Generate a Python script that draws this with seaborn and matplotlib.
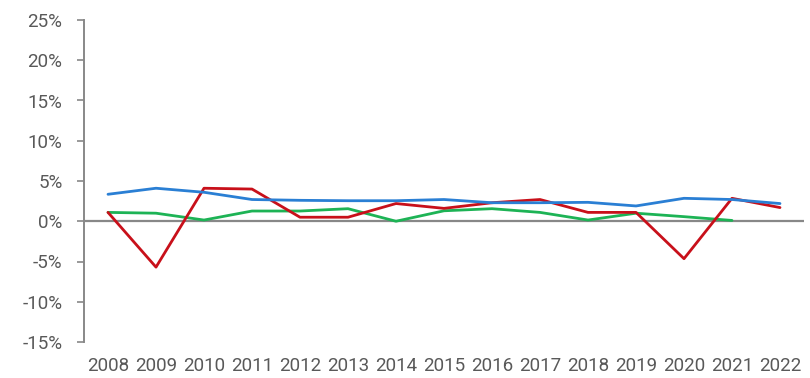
import matplotlib
matplotlib.use("Agg")
import matplotlib.pyplot as plt
import seaborn as sns
import pandas as pd
from matplotlib.ticker import FuncFormatter

years = [2008, 2009, 2010, 2011, 2012, 2013, 2014, 2015, 2016, 2017, 2018, 2019, 2020, 2021, 2022]
blue_vals = [3.35, 4.1, 3.6, 2.7, 2.6, 2.55, 2.55, 2.7, 2.3, 2.3, 2.35, 1.9, 2.85, 2.7, 2.2]
red_vals = [1.1, -5.7, 4.1, 4.0, 0.5, 0.5, 2.2, 1.6, 2.3, 2.7, 1.1, 1.1, -4.65, 2.85, 1.7]
green_vals = [1.1, 1.0, 0.15, 1.27, 1.27, 1.56, 0.0, 1.3, 1.56, 1.1, 0.15, 1.0, 0.57, 0.1, None]
yticks = [-15, -10, -5, 0, 5, 10, 15, 20, 25]

series = {"blue": blue_vals, "red": red_vals, "green": green_vals}
colors = {"blue": "#2A7FD4", "red": "#C8101A", "green": "#1DB355"}

rows = []
for name, vals in series.items():
    for i, v in enumerate(vals):
        if v is not None:
            rows.append({"pos": i, "value": v, "series": name})
df = pd.DataFrame(rows)

sns.set_style("white")
plt.rcParams["font.family"] = ["Roboto", "DejaVu Sans"]

fig = plt.figure(figsize=(8.1, 3.78), dpi=100)
ax = fig.add_axes([84 / 810, 36 / 378, 720 / 810, 322 / 378])

# zero baseline drawn first so the series sit on top
ax.axhline(0, color="#888888", lw=1.6, zorder=1)

sns.lineplot(data=df, x="pos", y="value", hue="series", palette=colors,
             hue_order=["green", "red", "blue"], linewidth=2.0, legend=False,
             ax=ax, zorder=3)

ax.set_xlim(-0.5, len(years) - 0.5)
ax.set_ylim(-15, 25)
ax.set_xticks(range(len(years)))
ax.set_xticklabels([str(y) for y in years])
ax.set_yticks(yticks)
ax.yaxis.set_major_formatter(FuncFormatter(lambda v, p: f"{int(v)}%"))
ax.set_xlabel("")
ax.set_ylabel("")

for s in ["top", "right", "bottom"]:
    ax.spines[s].set_visible(False)
ax.spines["left"].set_color("#888888")
ax.spines["left"].set_linewidth(1.4)

ax.tick_params(axis="y", left=True, length=5, width=1.2, color="#888888",
               labelsize=13.5, labelcolor="#595959", pad=10.5)
ax.tick_params(axis="x", bottom=False, length=0, labelsize=13.5,
               labelcolor="#595959", pad=11)

fig.savefig("out.png", dpi=100)
